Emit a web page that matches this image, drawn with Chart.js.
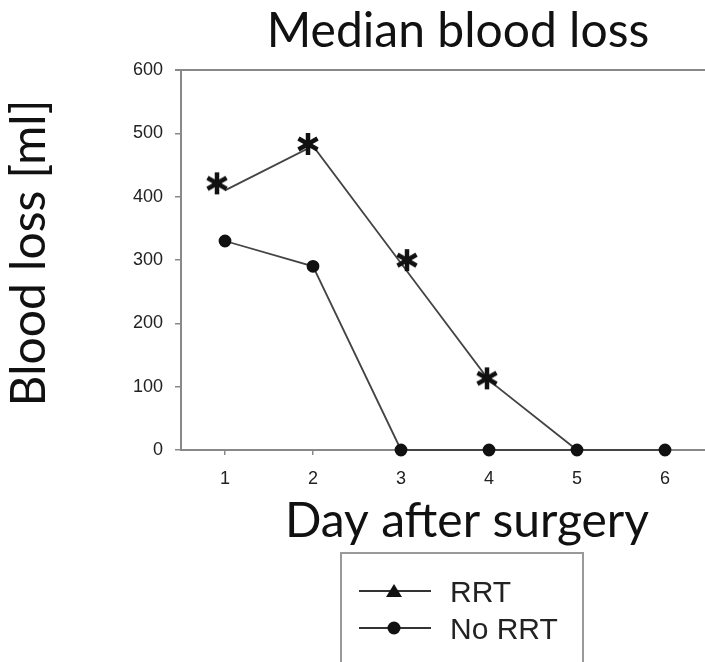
<!DOCTYPE html>
<html>
<head>
<meta charset="utf-8">
<script src="https://cdn.jsdelivr.net/npm/chart.js@4"></script>
<style>
  html, body { margin: 0; padding: 0; background: #fff; overflow: hidden; }
  #wrap { width: 720px; height: 662px; }
</style>
</head>
<body>
<div id="wrap"><canvas id="chart" width="720" height="662"></canvas></div>
<script>
const days = ["1", "2", "3", "4", "5", "6"];
const rrt = [410, 480, 295, 110, 0, 0];
const noRrt = [330, 290, 0, 0, 0, 0];
// days where RRT differs significantly (asterisk)
const significant = [true, true, true, true, false, false];
const yTicks = [0, 100, 200, 300, 400, 500, 600];

const titleFont = "Lato";
const tickFont = "'Liberation Sans', Arial, sans-serif";

// small nudges so the asterisks sit like in the original figure
const starNudge = [[-8, -7], [-5, -2], [6, -3], [-2, -2], [0, 0], [0, 0]];

function makeStar(dx, dy) {
    const c = document.createElement("canvas");
    c.width = 44; c.height = 44;
    const g = c.getContext("2d");
    g.strokeStyle = "#111";
    g.lineWidth = 4.5;
    const cx = 22 + dx, cy = 22 + dy, r = 11;
    for (const a of [90, 30, 150]) {
        const rad = a * Math.PI / 180;
        g.beginPath();
        g.moveTo(cx - r * Math.cos(rad), cy - r * Math.sin(rad));
        g.lineTo(cx + r * Math.cos(rad), cy + r * Math.sin(rad));
        g.stroke();
    }
    return c;
}

const frameTop = {
    id: "frameTop",
    afterDraw(chart) {
        const { ctx, chartArea } = chart;
        ctx.save();
        ctx.strokeStyle = "#888";
        ctx.lineWidth = 2;
        ctx.beginPath();
        ctx.moveTo(chartArea.left - 6, chartArea.top);
        ctx.lineTo(chartArea.right, chartArea.top);
        ctx.stroke();
        ctx.restore();
    }
};

const titles = {
    id: "titles",
    afterDraw(chart) {
        const ctx = chart.ctx;
        ctx.save();
        ctx.fillStyle = "#111";
        ctx.font = `48px ${titleFont}`;
        ctx.textAlign = "center";
        ctx.textBaseline = "alphabetic";
        ctx.fillText("Median blood loss", 458, 47);
        ctx.fillText("Day after surgery", 467, 537);
        ctx.translate(45, 253);
        ctx.rotate(-Math.PI / 2);
        ctx.fillText("Blood loss [ml]", 0, 0);
        ctx.restore();
    }
};

const legendBox = {
    id: "legendBox",
    afterDraw(chart) {
        const ctx = chart.ctx;
        ctx.save();
        ctx.strokeStyle = "#999";
        ctx.lineWidth = 2;
        ctx.strokeRect(341, 553, 242, 140);

        const items = chart.data.datasets.filter(d => d.legendStyle);
        items.forEach((ds, i) => {
            const y = 591 + i * 37;
            ctx.strokeStyle = "#333";
            ctx.lineWidth = 1.8;
            ctx.beginPath();
            ctx.moveTo(359, y);
            ctx.lineTo(431, y);
            ctx.stroke();

            ctx.fillStyle = "#111";
            ctx.beginPath();
            if (ds.legendStyle === "triangle") {
                ctx.moveTo(394, y - 7);
                ctx.lineTo(402, y + 6);
                ctx.lineTo(386, y + 6);
                ctx.closePath();
            } else {
                ctx.arc(394, y, 6.5, 0, Math.PI * 2);
            }
            ctx.fill();

            ctx.fillStyle = "#222";
            ctx.font = `30px ${tickFont}`;
            ctx.textBaseline = "alphabetic";
            ctx.fillText(ds.label, 450, y + 11);
        });
        ctx.restore();
    }
};

new Chart(document.getElementById("chart"), {
    type: "line",
    data: {
        labels: days,
        datasets: [
            {
                label: "RRT",
                legendStyle: "triangle",
                data: rrt,
                borderColor: "#444",
                borderWidth: 1.8,
                pointStyle: "triangle",
                pointRadius: 0,
                pointBackgroundColor: "#111",
                clip: false,
                order: 2
            },
            {
                label: "No RRT",
                legendStyle: "circle",
                data: noRrt,
                borderColor: "#444",
                borderWidth: 1.8,
                pointStyle: "circle",
                pointRadius: 5.5,
                pointBackgroundColor: "#111",
                pointBorderColor: "#111",
                clip: false,
                order: 1
            },
            {
                label: "Significant",
                data: rrt.map((v, i) => significant[i] ? v : null),
                showLine: false,
                pointStyle: starNudge.map(([dx, dy]) => makeStar(dx, dy)),
                pointRadius: 10,
                clip: false,
                order: 0
            }
        ]
    },
    options: {
        responsive: false,
        animation: false,
        layout: { padding: { top: 70, right: 11, left: 0, bottom: 0 } },
        plugins: {
            legend: { display: false },
            tooltip: { enabled: false },
            title: { display: false }
        },
        scales: {
            x: {
                type: "category",
                offset: true,
                grid: { display: true, drawOnChartArea: false, drawTicks: true, tickLength: 5, color: "#888", lineWidth: 1.5 },
                border: { display: true, color: "#888", width: 2 },
                ticks: { font: { family: tickFont, size: 18 }, color: "#222", padding: 13 },
                afterFit: s => { s.height = 212; }
            },
            y: {
                min: 0,
                max: 600,
                afterBuildTicks: s => { s.ticks = yTicks.map(v => ({ value: v })); },
                grid: { display: true, drawOnChartArea: false, drawTicks: true, tickLength: 6, color: "#888", lineWidth: 1.5 },
                border: { display: true, color: "#888", width: 2 },
                ticks: { font: { family: tickFont, size: 18 }, color: "#222", padding: 12 },
                afterFit: s => { s.width = 181; }
            }
        }
    },
    plugins: [frameTop, titles, legendBox]
});
</script>
</body>
</html>
